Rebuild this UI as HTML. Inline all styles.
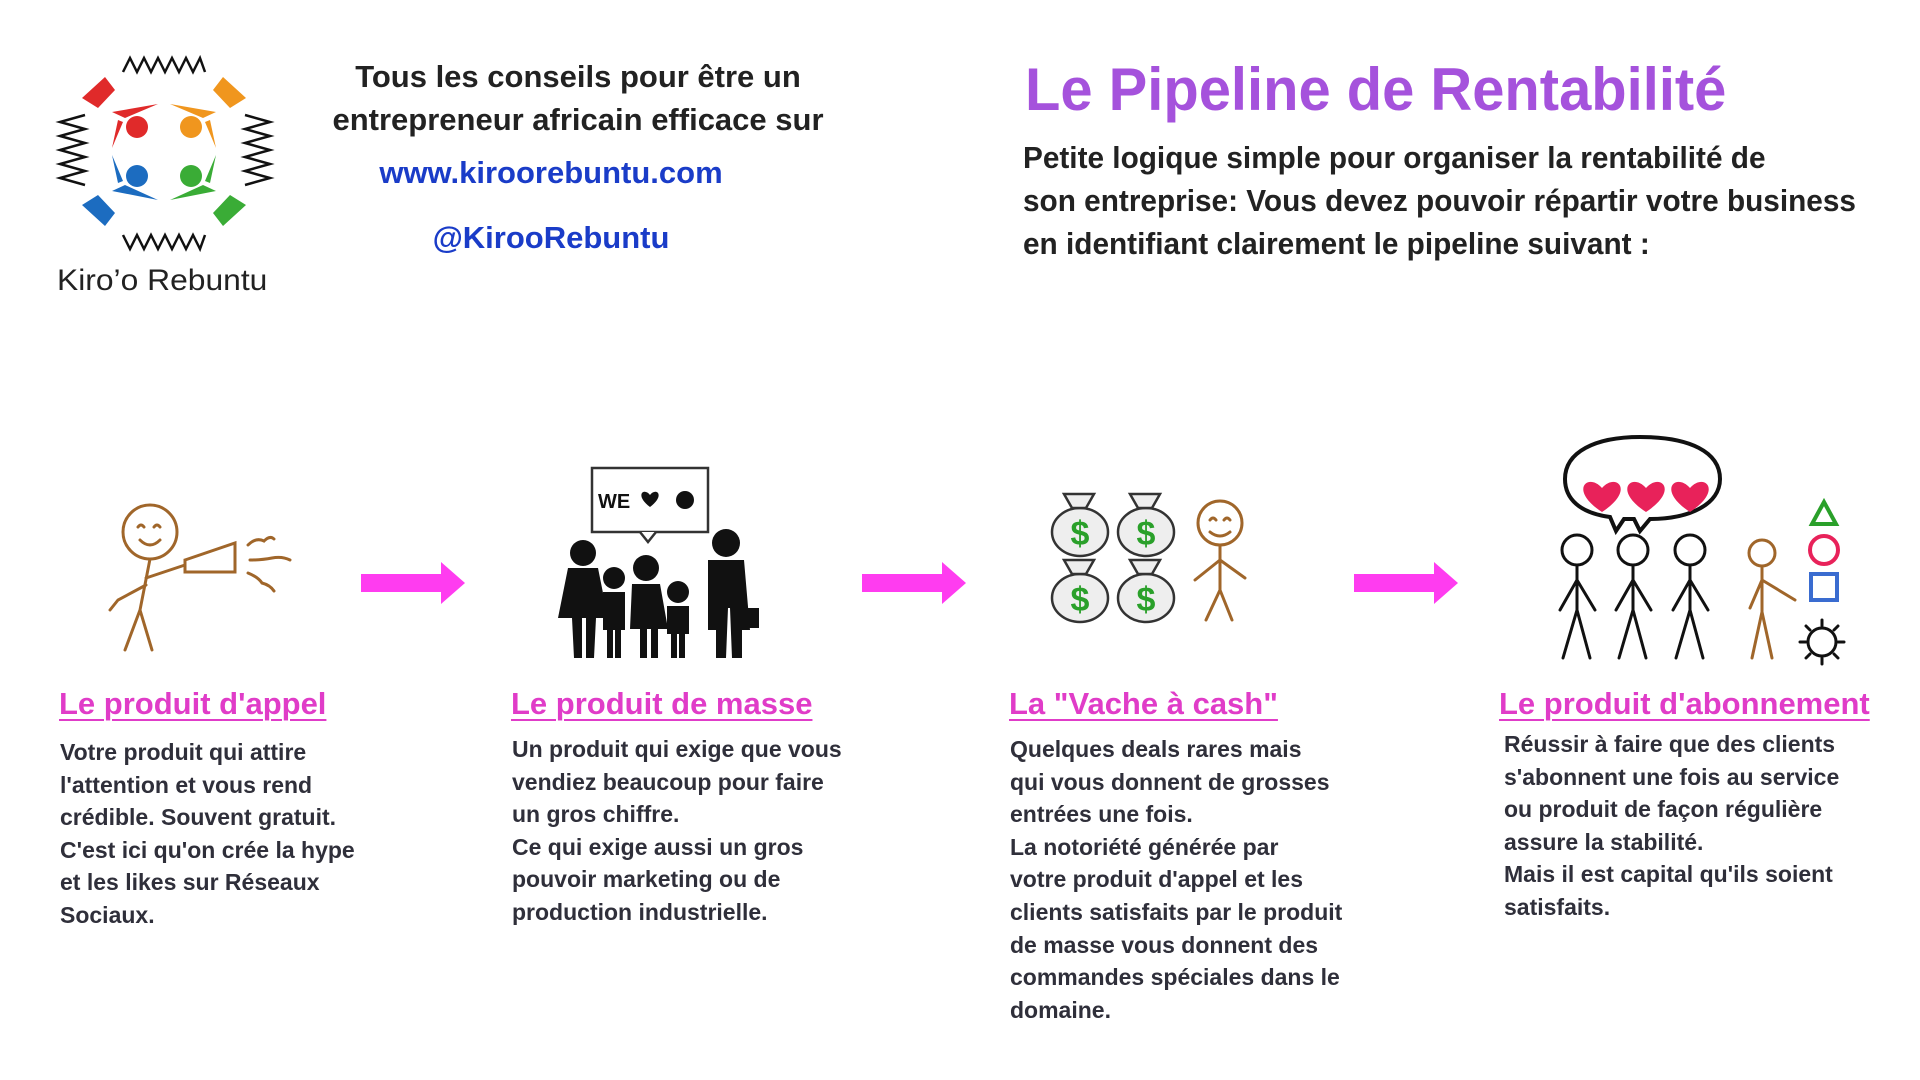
<!DOCTYPE html>
<html><head><meta charset="utf-8"><style>
html,body{margin:0;padding:0;background:#fff;}
body{width:1920px;height:1080px;position:relative;overflow:hidden;font-family:"Liberation Sans",sans-serif;}
.t{position:absolute;white-space:nowrap;transform-origin:left top;transform:scaleX(1);font-weight:bold;}
.c{position:absolute;white-space:nowrap;transform-origin:center top;font-weight:bold;text-align:center;}
.b{color:#2f2f3a;font-size:23px;line-height:32.6px;}
.h{color:#e03cc8;font-size:31px;text-decoration:underline;text-decoration-thickness:2px;text-underline-offset:5px;}
</style></head><body>
<svg width="1920" height="1080" style="position:absolute;left:0;top:0">
<g fill="none" stroke="#111" stroke-width="2.5">
<polyline points="123,72 130,58 137,72 144,58 151,72 158,58 165,72 172,58 179,72 186,58 193,72 200,58 205,72"/>
<polyline points="123,235 130,249 137,235 144,249 151,235 158,249 165,235 172,249 179,235 186,249 193,235 200,249 205,235"/>
<polyline points="85,115 60,122 85,129 60,136 85,143 60,150 85,157 60,164 85,171 60,178 85,185"/>
<polyline points="245,115 270,122 245,129 270,136 245,143 270,150 245,157 270,164 245,171 270,178 245,185"/>
</g>
<circle cx="137" cy="127" r="11" fill="#e02a2a"/><circle cx="191" cy="127" r="11" fill="#f0961e"/>
<circle cx="137" cy="176" r="11" fill="#1c6cc0"/><circle cx="191" cy="176" r="11" fill="#3aac36"/>
<path d="M82,98 L105,77 L115,90 L98,108 Z M112,112 L158,104 L125,118 Z M118,120 L112,148 L123,122Z" fill="#e02a2a"/>
<path d="M246,98 L223,77 L213,90 L230,108 Z M216,112 L170,104 L203,118 Z M210,120 L216,148 L205,122Z" fill="#f0961e"/>
<path d="M82,205 L105,226 L115,213 L98,195 Z M112,191 L158,200 L125,185 Z M118,183 L112,155 L123,181Z" fill="#1c6cc0"/>
<path d="M246,205 L223,226 L213,213 L230,195 Z M216,191 L170,200 L203,185 Z M210,183 L216,155 L205,181Z" fill="#3aac36"/>
<g fill="#ff3cf0">
<path d="M361,574 h80 v-12 l24,21 -24,21 v-12 h-80z"/>
<path d="M862,574 h80 v-12 l24,21 -24,21 v-12 h-80z"/>
<path d="M1354,574 h80 v-12 l24,21 -24,21 v-12 h-80z"/>
</g>
<g fill="none" stroke="#a0662a" stroke-width="3" stroke-linecap="round">
<circle cx="150" cy="532" r="27"/>
<path d="M138,527 q3,-4 6,0 M154,527 q3,-4 6,0 M140,540 q10,10 20,0"/>
<path d="M150,559 L140,610 L125,650 M140,610 L152,650 M146,578 L185,565 M146,585 L118,600 L110,610"/>
<path d="M185,560 L235,543 L235,572 L185,572 Z"/>
<path d="M248,545 q8,-8 16,-4 q6,-6 10,-2 M250,560 q12,0 22,-2 q10,-2 18,2 M248,573 q10,4 14,10 q8,2 12,8"/>
</g>
<rect x="592" y="468" width="116" height="64" fill="#fff" stroke="#333" stroke-width="2.5"/>
<path d="M640,532 l8,10 l8,-10" fill="#fff" stroke="#333" stroke-width="2.5"/>
<text x="598" y="508" font-family="Liberation Sans" font-weight="bold" font-size="20" fill="#111">WE</text>
<path d="M650,495 c-6,-8 -16,0 0,12 c16,-12 6,-20 0,-12z" fill="#111"/>
<circle cx="685" cy="500" r="9" fill="#111"/>
<g fill="#111">
<circle cx="583" cy="553" r="13"/><path d="M568,568 h30 l10,50 h-12 l-2,40 h-8 v-40 h-4 v40 h-8 l-2,-40 h-14z"/>
<circle cx="614" cy="578" r="11"/><path d="M603,592 h22 v38 h-4 v28 h-6 v-28 h-2 v28 h-6 v-28 h-4z"/>
<circle cx="646" cy="568" r="13"/><path d="M632,584 h28 l8,45 h-10 v29 h-7 v-29 h-4 v29 h-7 v-29 h-10z"/>
<circle cx="678" cy="592" r="11"/><path d="M667,606 h22 v28 h-4 v24 h-6 v-24 h-2 v24 h-6 v-24 h-4z"/>
<circle cx="726" cy="543" r="14"/><path d="M708,560 h36 l6,70 h-8 v28 h-10 l-2,-50 h-2 l-2,50 h-10 v-28 h-8z"/>
<rect x="735" y="608" width="24" height="20"/>
</g>
<g stroke="#333" stroke-width="2.5" fill="#eee">
<ellipse cx="1080" cy="532" rx="28" ry="24"/><ellipse cx="1146" cy="532" rx="28" ry="24"/>
<ellipse cx="1080" cy="598" rx="28" ry="24"/><ellipse cx="1146" cy="598" rx="28" ry="24"/>
<path d="M1072,508 l-8,-14 h30 l-8,14z M1138,508 l-8,-14 h30 l-8,14z M1072,574 l-8,-14 h30 l-8,14z M1138,574 l-8,-14 h30 l-8,14z"/>
</g>
<g font-family="Liberation Sans" font-weight="bold" font-size="34" fill="#2aa02a" text-anchor="middle">
<text x="1080" y="545">$</text><text x="1146" y="545">$</text><text x="1080" y="611">$</text><text x="1146" y="611">$</text></g>
<g fill="none" stroke="#a0662a" stroke-width="3" stroke-linecap="round">
<circle cx="1220" cy="523" r="22"/><path d="M1210,520 q3,-4 6,0 M1224,520 q3,-4 6,0 M1210,532 q10,8 20,0"/>
<path d="M1220,545 L1220,590 L1206,620 M1220,590 L1232,620 M1220,560 L1195,580 M1220,560 L1245,578"/>
</g>
<path d="M1640,437 c50,0 80,15 80,42 c0,25 -30,40 -70,40 l-10,12 l-6,-12 h-10 l-8,12 l-6,-14 c-30,-4 -45,-18 -45,-38 c0,-27 30,-42 75,-42z" fill="#fff" stroke="#111" stroke-width="4"/>
<g fill="#e8225a">
<path d="M1602,488 c-14,-16 -34,2 0,24 c34,-22 14,-40 0,-24z"/>
<path d="M1646,488 c-14,-16 -34,2 0,24 c34,-22 14,-40 0,-24z"/>
<path d="M1690,488 c-14,-16 -34,2 0,24 c34,-22 14,-40 0,-24z"/>
</g>
<g fill="none" stroke="#111" stroke-width="3" stroke-linecap="round">
<circle cx="1577" cy="550" r="15"/><path d="M1577,565 V610 L1563,658 M1577,610 L1590,658 M1577,580 L1560,610 M1577,580 L1595,610"/>
<circle cx="1633" cy="550" r="15"/><path d="M1633,565 V610 L1619,658 M1633,610 L1646,658 M1633,580 L1616,610 M1633,580 L1651,610"/>
<circle cx="1690" cy="550" r="15"/><path d="M1690,565 V610 L1676,658 M1690,610 L1703,658 M1690,580 L1673,610 M1690,580 L1708,610"/>
<circle cx="1822" cy="642" r="14"/>
<path d="M1822,620 v6 M1822,658 v6 M1800,642 h6 M1838,642 h6 M1806,626 l4,4 M1834,654 l4,4 M1806,658 l4,-4 M1834,630 l4,-4"/>
</g>
<g fill="none" stroke="#a0662a" stroke-width="3" stroke-linecap="round">
<circle cx="1762" cy="553" r="13"/><path d="M1762,566 V612 L1752,658 M1762,612 L1772,658 M1762,580 L1750,608 M1762,580 L1795,600"/>
</g>
<path d="M1812,524 l12,-22 l12,22z" fill="none" stroke="#2aa02a" stroke-width="4"/>
<circle cx="1824" cy="550" r="14" fill="none" stroke="#e8225a" stroke-width="4"/>
<rect x="1811" y="574" width="26" height="26" fill="none" stroke="#3a6cd0" stroke-width="4"/>
</svg>

<div class="t" style="left:57px;top:264px;font-size:30px;font-weight:normal;color:#222;transform:scaleX(1.06)">Kiro’o Rebuntu</div>
<div class="c" style="left:278px;width:600px;top:55px;font-size:31px;line-height:43px;color:#222">Tous les conseils pour être un<br>entrepreneur africain efficace sur</div>
<div class="c" style="left:251px;width:600px;top:155px;font-size:31px;color:#1a3cc8">www.kiroorebuntu.com</div>
<div class="c" style="left:251px;width:600px;top:220px;font-size:31px;color:#1a3cc8">@KirooRebuntu</div>
<div class="t" style="left:1025px;top:55px;font-size:60px;color:#a552dc;transform:scaleX(.965)">Le Pipeline de Rentabilité</div>
<div class="t" style="left:1023px;top:136px;font-size:31px;line-height:43px;color:#222;transform:scaleX(.96)">Petite logique simple pour organiser la rentabilité de<br>son entreprise: Vous devez pouvoir répartir votre business<br>en identifiant clairement le pipeline suivant :</div>

<div class="t h" style="left:59px;top:686px">Le produit d'appel</div>
<div class="t h" style="left:511px;top:686px">Le produit de masse</div>
<div class="t h" style="left:1009px;top:686px">La "Vache à cash"</div>
<div class="t h" style="left:1499px;top:686px">Le produit d'abonnement</div>

<div class="t b" style="left:60px;top:736px">Votre produit qui attire<br>l'attention et vous rend<br>crédible. Souvent gratuit.<br>C'est ici qu'on crée la hype<br>et les likes sur Réseaux<br>Sociaux.</div>
<div class="t b" style="left:512px;top:733px">Un produit qui exige que vous<br>vendiez beaucoup pour faire<br>un gros chiffre.<br>Ce qui exige aussi un gros<br>pouvoir marketing ou de<br>production industrielle.</div>
<div class="t b" style="left:1010px;top:733px">Quelques deals rares mais<br>qui vous donnent de grosses<br>entrées une fois.<br>La notoriété générée par<br>votre produit d'appel et les<br>clients satisfaits par le produit<br>de masse vous donnent des<br>commandes spéciales dans le<br>domaine.</div>
<div class="t b" style="left:1504px;top:728px">Réussir à faire que des clients<br>s'abonnent une fois au service<br>ou produit de façon régulière<br>assure la stabilité.<br>Mais il est capital qu'ils soient<br>satisfaits.</div>
</body></html>
